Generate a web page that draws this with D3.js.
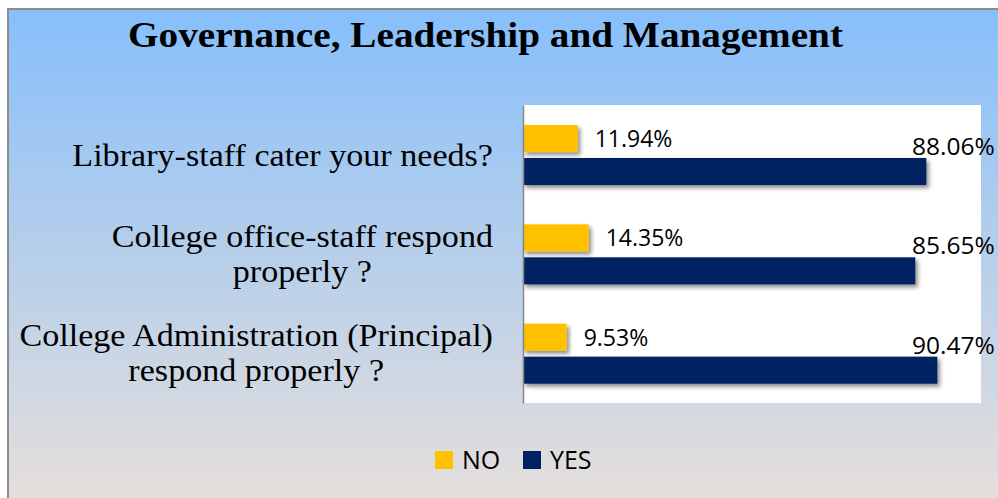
<!DOCTYPE html>
<html>
<head>
<meta charset="utf-8">
<script src="https://cdn.jsdelivr.net/npm/d3@7"></script>
<style>
html,body{margin:0;padding:0;background:#fff;}
svg{display:block;}
</style>
</head>
<body>
<svg id="chart" width="998" height="498"></svg>
<script>
const title = "Governance, Leadership and Management";
const categories = [
  ["Library-staff cater your needs?"],
  ["College office-staff respond", "properly ?"],
  ["College Administration (Principal)", "respond properly ?"]
];
const seriesNames = ["NO", "YES"];
const noValues = [11.94, 14.35, 9.53];
const yesValues = [88.06, 85.65, 90.47];
const colors = {NO: "#FFC000", YES: "#002060"};

const svg = d3.select("#chart");
const W = 998, H = 498;

const defs = svg.append("defs");
const grad = defs.append("linearGradient").attr("id", "bg").attr("x1", 0).attr("y1", 0).attr("x2", 0).attr("y2", 1);
grad.append("stop").attr("offset", "0%").attr("stop-color", "#86bffb");
grad.append("stop").attr("offset", "50%").attr("stop-color", "#b7cfea");
grad.append("stop").attr("offset", "100%").attr("stop-color", "#e7dfdb");
const f = defs.append("filter").attr("id", "shadow").attr("x", "-5%").attr("y", "-30%").attr("width", "115%").attr("height", "180%");
f.append("feDropShadow").attr("dx", 2.5).attr("dy", 3).attr("stdDeviation", 2).attr("flood-color", "#000").attr("flood-opacity", 0.45);

// frame
svg.append("rect").attr("x", 8).attr("y", 9).attr("width", W).attr("height", H)
  .attr("fill", "url(#bg)").attr("stroke", "#8c8c8c").attr("stroke-width", 2);

const plot = {left: 523, right: 981, top: 105, bottom: 403};
svg.append("rect").attr("x", plot.left).attr("y", plot.top)
  .attr("width", plot.right - plot.left).attr("height", plot.bottom - plot.top).attr("fill", "#fff");

const x = d3.scaleLinear().domain([0, 100]).range([plot.left, plot.right]);
const y0 = d3.scaleBand().domain(d3.range(categories.length)).range([plot.top, plot.bottom]);
const y1 = d3.scaleBand().domain(seriesNames).range([20, y0.bandwidth() - 19.3]).paddingInner(0.18);

// title
svg.append("text").attr("x", 485.5).attr("y", 47).attr("text-anchor", "middle")
  .attr("font-family", "'Liberation Serif', serif").attr("font-weight", "bold").attr("font-size", 36)
  .attr("textLength", 715).attr("lengthAdjust", "spacingAndGlyphs")
  .attr("fill", "#000").text(title);

// bars
const data = categories.map((c, i) => ({i, NO: noValues[i], YES: yesValues[i]}));
const groups = svg.append("g").selectAll("g").data(data).join("g")
  .attr("transform", d => `translate(0,${y0(d.i)})`);
groups.selectAll("rect").data(d => seriesNames.map(k => ({k, v: d[k]}))).join("rect")
  .attr("x", x(0)).attr("y", d => y1(d.k)).attr("height", y1.bandwidth())
  .attr("width", d => x(d.v) - x(0)).attr("fill", d => colors[d.k]).attr("filter", "url(#shadow)");

// axis line
svg.append("g").attr("transform", `translate(${plot.left},0)`)
  .call(d3.axisLeft(y0).tickSize(0).tickFormat(""))
  .call(g => g.select(".domain").attr("stroke", "#868686").attr("stroke-width", 1.5));

// value labels
groups.append("text").attr("x", d => x(d.NO) + 17).attr("y", y1("NO") + 22)
  .attr("font-family", "'Open Sans', sans-serif").attr("font-size", 23).attr("fill", "#000")
  .text(d => d.NO.toFixed(2) + "%");
groups.append("text").attr("x", x(100) - 69).attr("y", y1("YES") - 3)
  .attr("font-family", "'Open Sans', sans-serif").attr("font-size", 24.5).attr("fill", "#000")
  .text(d => d.YES.toFixed(2) + "%");

// category labels
const catG = svg.append("g");
const stretch = 1.1;
categories.forEach((lines, i) => {
  const cy = y0(i) + y0.bandwidth() / 2;
  const t = catG.append("text").attr("font-family", "'Liberation Serif', serif").attr("font-size", 31).attr("fill", "#000")
    .attr("text-anchor", "middle");
  const spans = lines.map((ln, j) =>
    t.append("tspan").attr("x", 0).attr("y", cy + 11 - (lines.length - 1) * 18 + j * 35).text(ln));
  let maxW = 0;
  spans.forEach(s => {
    const w = s.node().getComputedTextLength() * stretch;
    s.attr("textLength", w).attr("lengthAdjust", "spacingAndGlyphs");
    maxW = Math.max(maxW, w);
  });
  spans.forEach(s => s.attr("x", 493 - maxW / 2));
});

// legend
const lg = svg.append("g");
const legendPos = [{k: "NO", x: 435}, {k: "YES", x: 523}];
legendPos.forEach(p => {
  lg.append("rect").attr("x", p.x).attr("y", 451).attr("width", 18).attr("height", 18).attr("fill", colors[p.k]);
  lg.append("text").attr("x", p.x + 27).attr("y", 469).attr("font-family", "'Open Sans', sans-serif")
    .attr("font-size", 25).attr("fill", "#000").text(p.k);
});
</script>
</body>
</html>
